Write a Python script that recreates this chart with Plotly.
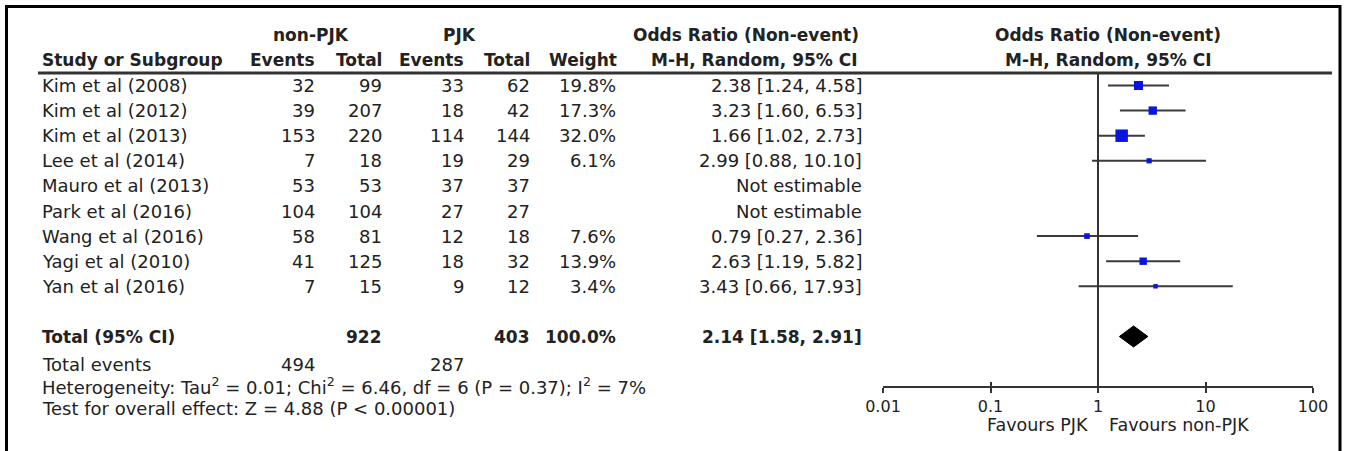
import plotly.graph_objects as go

W, H = 1349, 451

# ---------------- data ----------------
studies = ["Kim et al (2008)", "Kim et al (2012)", "Kim et al (2013)", "Lee et al (2014)",
           "Mauro et al (2013)", "Park et al (2016)", "Wang et al (2016)", "Yagi et al (2010)",
           "Yan et al (2016)"]
nonpjk_events = [32, 39, 153, 7, 53, 104, 58, 41, 7]
nonpjk_total = [99, 207, 220, 18, 53, 104, 81, 125, 15]
pjk_events = [33, 18, 114, 19, 37, 27, 12, 18, 9]
pjk_total = [62, 42, 144, 29, 37, 27, 18, 32, 12]
weights = [19.8, 17.3, 32.0, 6.1, None, None, 7.6, 13.9, 3.4]
odds_ratio = [2.38, 3.23, 1.66, 2.99, None, None, 0.79, 2.63, 3.43]
ci_low = [1.24, 1.60, 1.02, 0.88, None, None, 0.27, 1.19, 0.66]
ci_high = [4.58, 6.53, 2.73, 10.10, None, None, 2.36, 5.82, 17.93]

total_nonpjk = 922
total_pjk = 403
total_weight = 100.0
total_events_nonpjk = 494
total_events_pjk = 287
pooled_or, pooled_lo, pooled_hi = 2.14, 1.58, 2.91

heterogeneity = "Heterogeneity: Tau<sup>2</sup> = 0.01; Chi<sup>2</sup> = 6.46, df = 6 (P = 0.37); I<sup>2</sup> = 7%"
overall_test = "Test for overall effect: Z = 4.88 (P < 0.00001)"
axis_ticks = [0.01, 0.1, 1, 10, 100]
axis_ticktext = ["0.01", "0.1", "1", "10", "100"]

# ---------------- layout helpers ----------------
ROW0, ROWH = 85.5, 25.1          # pixel y of first row, row spacing
TOTAL_ROW = 10                    # row index of the pooled result
FONT = "DejaVu Sans"
TXT = "#222222"
HB = 17                           # bold size

def px(x):
    return x / W

def py(y):
    return 1 - y / H

def row_of(ypix):
    return (ypix - ROW0) / ROWH

fig = go.Figure()

# reference line at OR = 1 (drawn on the overlay axis so that axis gets rendered)
fig.add_trace(go.Scatter(x=[1, 1], y=[row_of(73), row_of(387)], mode="lines", xaxis="x2",
                         line=dict(color="#333333", width=2), hoverinfo="skip", showlegend=False))

# study CIs and point estimates
for i, (o, lo, hi, w) in enumerate(zip(odds_ratio, ci_low, ci_high, weights)):
    if o is None:
        continue
    fig.add_trace(go.Scatter(x=[lo, hi], y=[i, i], mode="lines",
                             line=dict(color="#3a3a3a", width=2), showlegend=False))
    fig.add_trace(go.Scatter(x=[o], y=[i], mode="markers",
                             marker=dict(symbol="square", color="#0a14e0", size=3.5 + 0.28 * w,
                                         line=dict(width=0)), showlegend=False))

# pooled diamond
hh = 0.42
fig.add_trace(go.Scatter(x=[pooled_lo, pooled_or, pooled_hi, pooled_or, pooled_lo],
                         y=[TOTAL_ROW, TOTAL_ROW - hh, TOTAL_ROW, TOTAL_ROW + hh, TOTAL_ROW],
                         mode="lines", fill="toself", fillcolor="black",
                         line=dict(color="black", width=1), showlegend=False))

ann = []

def text(x, y, s, anchor="left", bold=False, size=18, yref="paper", color=TXT):
    ann.append(dict(x=px(x), y=y, xref="paper", yref=yref, text=(f"<b>{s}</b>" if bold else s),
                    showarrow=False, xanchor=anchor, yanchor="middle",
                    font=dict(family=FONT, size=size, color=color)))

# column right edges (px)
C_EV1, C_TOT1, C_EV2, C_TOT2, C_W, C_OR = 317, 384, 466, 532, 618, 864

# headers
text(311, py(35), "non-PJK", "center", True, HB)
text(459, py(35), "PJK", "center", True, HB)
text(861, py(35), "Odds Ratio (Non-event)", "right", True, HB)
text(1108, py(35), "Odds Ratio (Non-event)", "center", True, HB)
text(40, py(60), "Study or Subgroup", "left", True, HB)
text(C_EV1, py(60), "Events", "right", True, HB)
text(C_TOT1, py(60), "Total", "right", True, HB)
text(C_EV2, py(60), "Events", "right", True, HB)
text(C_TOT2, py(60), "Total", "right", True, HB)
text(C_W + 1, py(60), "Weight", "right", True, HB)
text(860, py(60), "M-H, Random, 95% CI", "right", True, HB)
text(1108, py(60), "M-H, Random, 95% CI", "center", True, HB)

# study rows
for i, s in enumerate(studies):
    text(40, i, s, yref="y")
    text(C_EV1, i, str(nonpjk_events[i]), "right", yref="y")
    text(C_TOT1, i, str(nonpjk_total[i]), "right", yref="y")
    text(C_EV2, i, str(pjk_events[i]), "right", yref="y")
    text(C_TOT2, i, str(pjk_total[i]), "right", yref="y")
    if weights[i] is not None:
        text(C_W, i, f"{weights[i]:.1f}%", "right", yref="y")
        text(C_OR, i, f"{odds_ratio[i]:.2f} [{ci_low[i]:.2f}, {ci_high[i]:.2f}]", "right", yref="y")
    else:
        text(C_OR, i, "Not estimable", "right", yref="y")

# total row
text(40, TOTAL_ROW, "Total (95% CI)", bold=True, size=HB, yref="y")
text(C_TOT1, TOTAL_ROW, str(total_nonpjk), "right", True, HB, yref="y")
text(C_TOT2, TOTAL_ROW, str(total_pjk), "right", True, HB, yref="y")
text(C_W, TOTAL_ROW, f"{total_weight:.1f}%", "right", True, HB, yref="y")
text(C_OR, TOTAL_ROW, f"{pooled_or:.2f} [{pooled_lo:.2f}, {pooled_hi:.2f}]", "right", True, HB, yref="y")

# footer
text(40, py(364), "Total events")
text(C_EV1, py(364), str(total_events_nonpjk), "right")
text(C_EV2, py(364), str(total_events_pjk), "right")
text(40, py(386), heterogeneity)
text(40, py(408), overall_test)
text(1090, py(425), "Favours PJK", "right", size=17.5)
text(1107, py(425), "Favours non-PJK", "left", size=17.5)

shapes = [
    # frame
    dict(type="path", xref="paper", yref="paper",
         path=f"M {px(6.5)} 0 L {px(6.5)} {py(6.5)} L {px(1340)} {py(6.5)} L {px(1340)} 0",
         line=dict(color="black", width=3)),
    # header rule
    dict(type="line", xref="paper", yref="paper", x0=px(38), x1=px(1332), y0=py(73), y1=py(73),
         line=dict(color="#333333", width=3)),
]

axis_common = dict(type="log", range=[-2, 2], domain=[px(883), px(1313)], anchor="free",
                   position=py(387), showgrid=False, zeroline=False,
                   tickvals=axis_ticks, tickcolor="#333333", tickwidth=2)

fig.update_layout(
    width=W, height=H, margin=dict(l=0, r=0, t=0, b=0, autoexpand=False),
    paper_bgcolor="white", plot_bgcolor="white",
    showlegend=False, annotations=ann, shapes=shapes,
    xaxis=dict(**axis_common, showline=True, linecolor="#333333", linewidth=2,
               ticks="outside", ticklen=5, ticktext=axis_ticktext,
               tickfont=dict(family=FONT, size=16, color=TXT)),
    xaxis2=dict(**axis_common, overlaying="x", showline=False, ticks="inside", ticklen=5,
                showticklabels=False),
    yaxis=dict(range=[row_of(H), row_of(0)], domain=[0, 1], visible=False,
               showgrid=False, zeroline=False),
)

fig.write_html("out.html", config={"displayModeBar": False},
               post_script="document.body.style.margin='0';")
